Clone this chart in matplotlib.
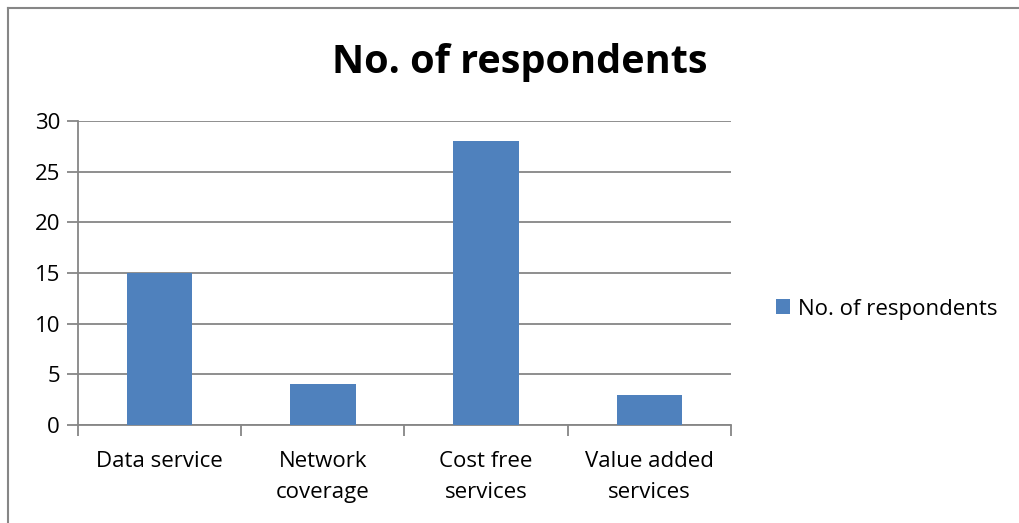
import matplotlib.pyplot as plt
from matplotlib.lines import Line2D
import numpy as np

categories = ['Data service', 'Network\ncoverage', 'Cost free\nservices', 'Value added\nservices']
respondents = [15, 4, 28, 3]
series_name = 'No. of respondents'

BAR = '#4F81BD'
GRID = '#868686'

plt.rcParams['font.family'] = ['Open Sans', 'DejaVu Sans']

W, H = 1020, 523
fig = plt.figure(figsize=(W / 100, H / 100), dpi=100)

# outer chart border
fig.add_artist(Line2D([8 / W, 8 / W], [0, 1 - 8 / H], color=GRID, lw=1.5))
fig.add_artist(Line2D([8 / W, 1], [1 - 8 / H, 1 - 8 / H], color=GRID, lw=1.5))

ax = fig.add_axes([78 / W, 98 / H, 653 / W, 304 / H])
x = np.arange(len(categories))
ax.bar(x, respondents, width=0.4, color=BAR, label=series_name, zorder=3)

ax.set_xlim(-0.5, len(categories) - 0.5)
ax.set_ylim(0, 30)
ax.set_yticks(range(0, 31, 5))
ax.yaxis.grid(True, color=GRID, lw=1.3, zorder=0)
ax.set_axisbelow(True)

ax.set_xticks(x)
ax.set_xticklabels(categories, fontsize=16, linespacing=1.6)
ax.tick_params(axis='x', length=0, pad=19)
ax.set_xticks(np.arange(-0.5, len(categories)), minor=True)
ax.tick_params(axis='x', which='minor', length=8, width=1.3, color=GRID, direction='out')
ax.tick_params(axis='y', length=8, width=1.3, color=GRID, labelsize=16, pad=5)

for s in ['top', 'right']:
    ax.spines[s].set_visible(False)
for s in ['left', 'bottom']:
    ax.spines[s].set_color(GRID)
    ax.spines[s].set_linewidth(1.3)

fig.text(520 / W, 1 - 63 / H, 'No. of respondents', fontsize=28.5, fontweight='bold',
         ha='center', va='center')

ax.legend(loc='center left', bbox_to_anchor=(756 / W, 1 - 309 / H), bbox_transform=fig.transFigure,
          frameon=False, fontsize=16, handlelength=0.65, handleheight=0.65, handletextpad=0.35)

fig.savefig('out.png', dpi=100, facecolor='white')
